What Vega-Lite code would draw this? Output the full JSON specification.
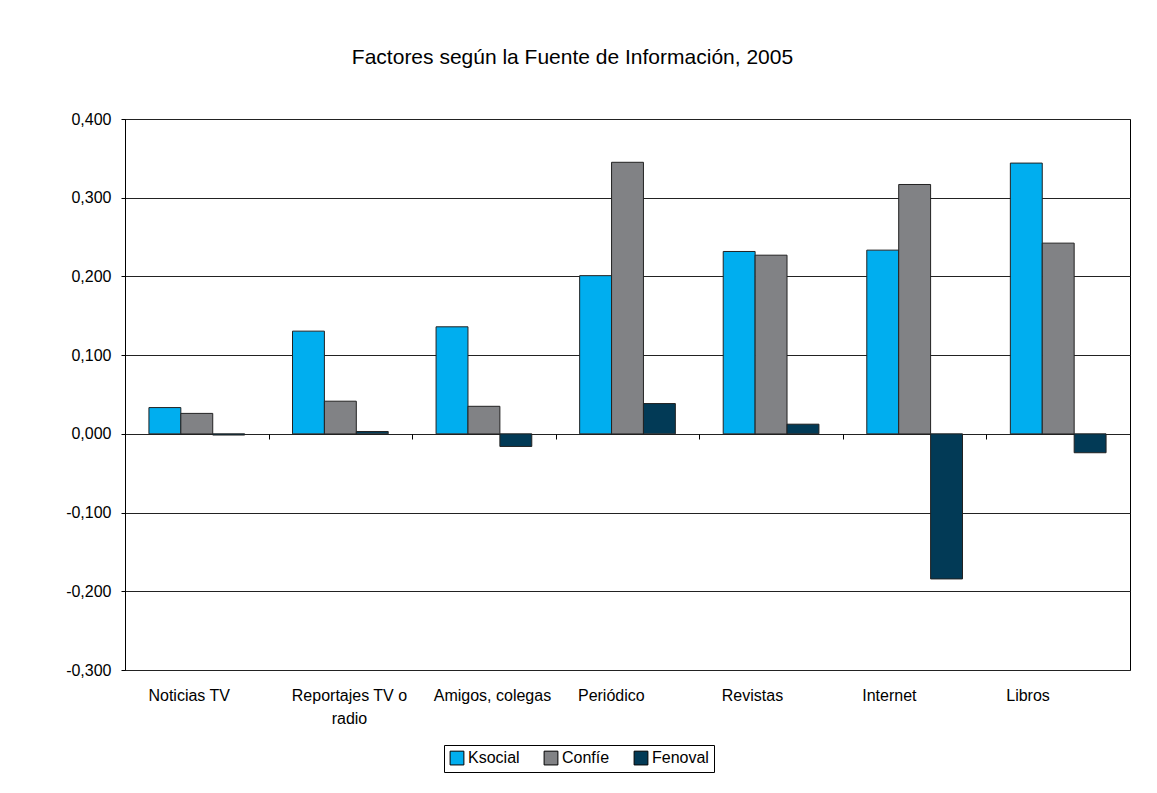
{
  "$schema": "https://vega.github.io/schema/vega-lite/v6.json",
  "width": 1005,
  "height": 551,
  "autosize": {"type": "none"},
  "padding": {"left": 125, "top": 119, "right": 27, "bottom": 123},
  "background": "white",
  "title": {
    "text": "Factores según la Fuente de Información, 2005",
    "fontSize": 21,
    "fontWeight": "normal",
    "font": "Liberation Sans",
    "color": "#000",
    "anchor": "middle",
    "frame": "group",
    "dx": -55,
    "dy": 100
  },
  "data": {
    "values": [
      {"fuente": "Noticias TV", "factor": "Ksocial", "valor": 0.0334},
      {"fuente": "Noticias TV", "factor": "Confíe", "valor": 0.026},
      {"fuente": "Noticias TV", "factor": "Fenoval", "valor": -0.0015},
      {"fuente": "Reportajes TV o radio", "factor": "Ksocial", "valor": 0.1305},
      {"fuente": "Reportajes TV o radio", "factor": "Confíe", "valor": 0.0415},
      {"fuente": "Reportajes TV o radio", "factor": "Fenoval", "valor": 0.003},
      {"fuente": "Amigos, colegas", "factor": "Ksocial", "valor": 0.136},
      {"fuente": "Amigos, colegas", "factor": "Confíe", "valor": 0.035},
      {"fuente": "Amigos, colegas", "factor": "Fenoval", "valor": -0.016},
      {"fuente": "Periódico", "factor": "Ksocial", "valor": 0.201},
      {"fuente": "Periódico", "factor": "Confíe", "valor": 0.345},
      {"fuente": "Periódico", "factor": "Fenoval", "valor": 0.0385},
      {"fuente": "Revistas", "factor": "Ksocial", "valor": 0.2317},
      {"fuente": "Revistas", "factor": "Confíe", "valor": 0.227},
      {"fuente": "Revistas", "factor": "Fenoval", "valor": 0.0123},
      {"fuente": "Internet", "factor": "Ksocial", "valor": 0.2334},
      {"fuente": "Internet", "factor": "Confíe", "valor": 0.3168},
      {"fuente": "Internet", "factor": "Fenoval", "valor": -0.1843},
      {"fuente": "Libros", "factor": "Ksocial", "valor": 0.344},
      {"fuente": "Libros", "factor": "Confíe", "valor": 0.2423},
      {"fuente": "Libros", "factor": "Fenoval", "valor": -0.024}
    ]
  },
  "resolve": {"axis": {"x": "independent"}},
  "layer": [
    {
      "mark": {"type": "bar", "opacity": 0},
      "encoding": {
        "x": {
          "field": "fuente", "type": "nominal", "sort": null,
          "scale": {"paddingInner": 0, "paddingOuter": 0},
          "axis": {
            "orient": "top", "offset": -315, "title": null, "labels": false,
            "domain": false, "ticks": true, "tickBand": "extent", "tickSize": -5,
            "tickColor": "#000", "tickWidth": 1
          }
        },
        "y": {"field": "valor", "type": "quantitative"}
      }
    },
    {
      "mark": {"type": "bar", "stroke": "#222", "strokeWidth": 1},
      "encoding": {
        "x": {
          "field": "fuente", "type": "nominal", "sort": null,
          "scale": {"paddingInner": 0, "paddingOuter": 0},
          "axis": {
            "orient": "bottom", "title": null, "labelAngle": 0, "domain": false,
            "ticks": false, "labelPadding": 17, "labelFontSize": 16,
            "labelFont": "Liberation Sans", "labelColor": "#000", "labelBaseline": "top",
            "labelLineHeight": 23,
            "labelExpr": "datum.label == 'Reportajes TV o radio' ? ['Reportajes TV o', 'radio'] : datum.label",
            "labelOffset": {
              "condition": [
                {"test": "datum.value == 'Noticias TV'", "value": -7.6},
                {"test": "datum.value == 'Reportajes TV o radio'", "value": 9.1},
                {"test": "datum.value == 'Amigos, colegas'", "value": 8.5},
                {"test": "datum.value == 'Periódico'", "value": -16.2},
                {"test": "datum.value == 'Revistas'", "value": -18.6},
                {"test": "datum.value == 'Internet'", "value": -25.3}
              ],
              "value": -30.2
            }
          }
        },
        "xOffset": {
          "field": "factor", "type": "nominal",
          "sort": ["Ksocial", "Confíe", "Fenoval"],
          "scale": {"paddingInner": 0, "paddingOuter": 0.75}
        },
        "y": {
          "field": "valor", "type": "quantitative",
          "scale": {"domain": [-0.3, 0.4], "nice": false, "zero": false},
          "axis": {
            "title": null,
            "values": [-0.3, -0.2, -0.1, 0, 0.1, 0.2, 0.3, 0.4],
            "labelExpr": "replace(replace(format(datum.value, '.3f'), '.', ','), '\u2212', '-')",
            "labelFontSize": 16, "labelFont": "Liberation Sans", "labelColor": "#000",
            "labelPadding": 10, "tickSize": 4, "tickColor": "#000",
            "domainColor": "#000", "domainWidth": 1,
            "grid": true, "gridColor": "#222", "gridOpacity": 1, "gridWidth": 1
          }
        },
        "color": {
          "field": "factor", "type": "nominal",
          "scale": {"domain": ["Ksocial", "Confíe", "Fenoval"], "range": ["#00AEEF", "#818285", "#023A56"]},
          "legend": {
            "title": null, "orient": "none", "legendX": 319, "legendY": 626,
            "direction": "horizontal", "symbolType": "square", "symbolSize": 190,
            "symbolStrokeColor": "#000", "symbolStrokeWidth": 1, "symbolOpacity": 1,
            "labelFontSize": 16, "labelFont": "Liberation Sans", "labelColor": "#000",
            "strokeColor": "#000", "fillColor": "white", "padding": 5,
            "columnPadding": 22, "labelOffset": 3
          }
        }
      }
    }
  ],
  "config": {
    "view": {"stroke": "#000", "strokeWidth": 1},
    "font": "Liberation Sans"
  }
}
